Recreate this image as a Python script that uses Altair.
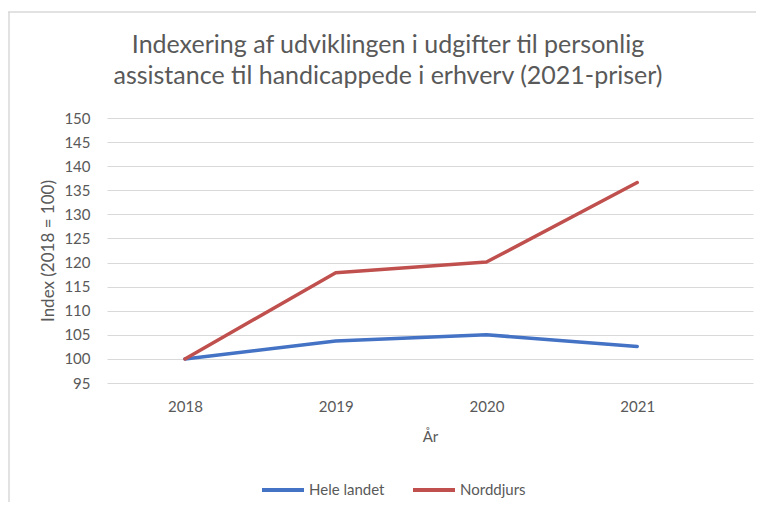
import altair as alt
import pandas as pd

years = [2018, 2019, 2020, 2021]
hele_landet = [100.0, 103.7, 105.0, 102.6]
norddjurs = [100.0, 117.9, 120.1, 136.6]
series_names = ["Hele landet", "Norddjurs"]
series_colors = ["#4472C4", "#C0504D"]
y_ticks = list(range(95, 151, 5))

title_lines = [
    "Indexering af udviklingen i udgifter til personlig",
    "assistance til handicappede  i erhverv (2021-priser)",
]

rows = []
for y, v in zip(years, hele_landet):
    rows.append({"År": y, "Serie": series_names[0], "Index": v})
for y, v in zip(years, norddjurs):
    rows.append({"År": y, "Serie": series_names[1], "Index": v})
df = pd.DataFrame(rows)

FONT = "Lato"
GRAY = "#595959"
W, H = 646, 265

lines = alt.Chart(df).mark_line(strokeWidth=3.5, strokeCap="round", strokeJoin="round").encode(
    x=alt.X(
        "År:Q",
        scale=alt.Scale(domain=[2017.483, 2021.768], nice=False, zero=False),
        axis=alt.Axis(
            values=years, format="d", grid=False, ticks=False, domain=False,
            labelPadding=16, labelFontSize=15, labelColor=GRAY, labelFont=FONT,
            title="År", titleFontSize=15, titleColor=GRAY, titleFont=FONT,
            titleFontWeight="normal", titlePadding=15,
        ),
    ),
    y=alt.Y(
        "Index:Q",
        scale=alt.Scale(domain=[95, 150], nice=False, zero=False),
        axis=alt.Axis(
            values=y_ticks, grid=True, gridColor="#d9d9d9", gridWidth=1.2,
            ticks=False, domain=False, labelPadding=17, labelFontSize=15,
            labelColor=GRAY, labelFont=FONT,
            title="Index (2018 = 100)", titleFontSize=17, titleColor=GRAY,
            titleFont=FONT, titleFontWeight="normal", titlePadding=6,
        ),
    ),
    color=alt.Color(
        "Serie:N",
        scale=alt.Scale(domain=series_names, range=series_colors),
        legend=alt.Legend(
            title=None, orient="none", legendX=153, legendY=349,
            direction="horizontal", symbolType="stroke", symbolSize=1764,
            symbolStrokeWidth=4, labelFontSize=15, labelColor=GRAY,
            labelFont=FONT, labelOffset=3, columnPadding=20,
        ),
    ),
)

frame_data = alt.Data(values=[{"k": 1}])
frame_top = alt.Chart(frame_data).mark_rule(color="#d9d9d9", strokeWidth=1.5).encode(
    x=alt.value(-99), x2=alt.value(W + 3), y=alt.value(-106)
)
frame_left = alt.Chart(frame_data).mark_rule(color="#d9d9d9", strokeWidth=1.5).encode(
    x=alt.value(-98), y=alt.value(-106), y2=alt.value(H + 119)
)

chart = alt.layer(frame_top, frame_left, lines).properties(
    width=W,
    height=H,
    padding={"left": 99, "top": 110, "right": 3, "bottom": 119},
    autosize=alt.AutoSizeParams(type="none"),
    title=alt.TitleParams(
        text=title_lines, anchor="middle", frame="group", dx=-42,
        fontSize=25, font=FONT, color=GRAY, fontWeight="normal",
        lineHeight=31, offset=-78,
    ),
).configure_view(stroke=None)

chart.save("out.html", embed_options={"renderer": "svg", "actions": False})
